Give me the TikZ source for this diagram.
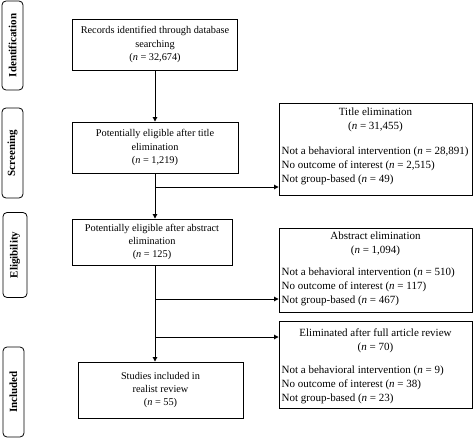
\documentclass[tikz,border=0pt]{standalone}
\usepackage{fontspec}
\setmainfont{Liberation Serif}
\usetikzlibrary{arrows.meta}
\tikzset{
  txt/.style={font=\fontsize{10.3}{13.4}\selectfont, inner sep=0pt},
  rtxt/.style={font=\fontsize{11}{14}\selectfont, inner sep=0pt},
  mainbox/.style={draw, line width=0.9pt, txt, align=center},
  rbox/.style={draw, line width=0.9pt, inner sep=0pt},
  sidebox/.style={draw, line width=0.8pt, rounded corners=4pt, rotate=90,
    font=\fontsize{11}{13}\selectfont\bfseries, inner sep=0pt},
  arr/.style={line width=0.9pt, -{Triangle[width=4.5pt,length=4.5pt]}},
}
\begin{document}
\begin{tikzpicture}[x=1pt,y=-1pt]
\useasboundingbox (0,0) rectangle (473,438);
% side labels
\node[sidebox, minimum width=89, minimum height=21] (S1) at (12.5,45.5) {Identification};
\node[sidebox, minimum width=90, minimum height=21] (S2) at (12.5,153) {Screening};
\node[sidebox, minimum width=85, minimum height=24] (S3) at (15,255) {Eligibility};
\node[sidebox, minimum width=90, minimum height=21] (S4) at (13.5,392) {Included};
% main boxes
\node[mainbox, minimum width=165, minimum height=51] (B1) at (155,44.5)
  {Records identified through database\\searching\\(\textit{n} = 32,674)};
\node[mainbox, minimum width=166, minimum height=51] (B2) at (155,147.5)
  {Potentially eligible after title\\elimination\\(\textit{n} = 1,219)};
\node[mainbox, minimum width=160, minimum height=46] (B3) at (152,242)
  {Potentially eligible after abstract\\elimination\\(\textit{n} = 125)};
\node[mainbox, minimum width=165, minimum height=56] (B4) at (160.5,390)
  {Studies included in\\realist review\\(\textit{n} = 55)};
% right boxes
\node[rbox, minimum width=193, minimum height=92] (T) at (375.5,149) {};
\node[rtxt, align=center] (Th) at (375.5,120) {Title elimination\\(\textit{n} = 31,455)};
\node[rtxt, align=left, anchor=west] (Tb) at (281.5,166)
  {Not a behavioral intervention (\textit{n} = 28,891)\\No outcome of interest (\textit{n} = 2,515)\\Not group-based (\textit{n} = 49)};
\node[rbox, minimum width=193, minimum height=84] (A) at (375.5,270) {};
\node[rtxt, align=center] (Ah) at (375.5,244) {Abstract elimination\\(\textit{n} = 1,094)};
\node[rtxt, align=left, anchor=west] (Ab) at (281.5,287)
  {Not a behavioral intervention (\textit{n} = 510)\\No outcome of interest (\textit{n} = 117)\\Not group-based (\textit{n} = 467)};
\node[rbox, minimum width=193, minimum height=87] (F) at (375.5,364.5) {};
\node[rtxt, align=center] (Fh) at (375.5,341) {Eliminated after full article review\\(\textit{n} = 70)};
\node[rtxt, align=left, anchor=west] (Fb) at (281.5,385)
  {Not a behavioral intervention (\textit{n} = 9)\\No outcome of interest (\textit{n} = 38)\\Not group-based (\textit{n} = 23)};
% connectors
\coordinate (tx) at (155,0);
\coordinate (j1) at (155,187);
\coordinate (j2) at (155,299);
\coordinate (j3) at (155,337);
\draw[arr] (B1.south -| tx) -- (B2.north -| tx);
\draw[arr] (B2.south -| tx) -- (B3.north -| tx);
\draw[arr] (B3.south -| tx) -- (B4.north -| tx);
\draw[arr] (j1) -- (T.west |- j1);
\draw[arr] (j2) -- (A.west |- j2);
\draw[arr] (j3) -- (F.west |- j3);
\end{tikzpicture}
\end{document}
